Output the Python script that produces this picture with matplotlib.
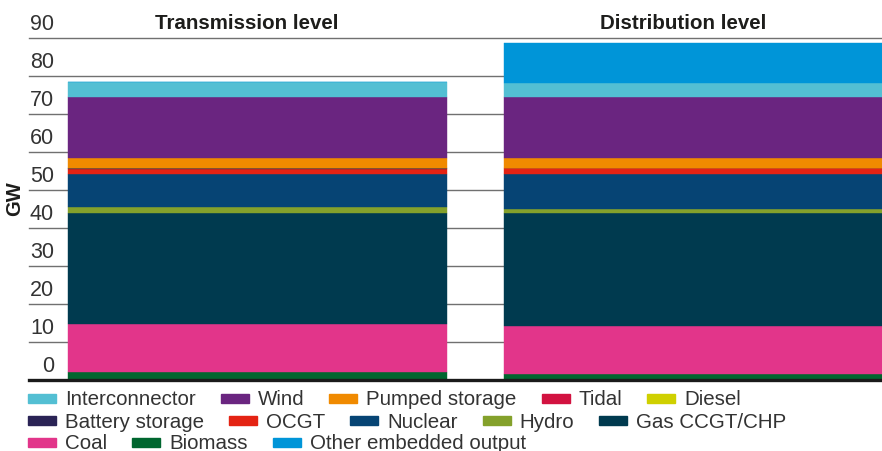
import matplotlib

matplotlib.use("Agg")

import matplotlib.pyplot as plt
from matplotlib.patches import Rectangle
from matplotlib.transforms import blended_transform_factory, offset_copy


# stack order, bottom to top
SOURCES = [
    "Biomass",
    "Coal",
    "Gas CCGT/CHP",
    "Hydro",
    "Nuclear",
    "OCGT",
    "Battery storage",
    "Tidal",
    "Diesel",
    "Pumped storage",
    "Wind",
    "Interconnector",
    "Other embedded output",
]
TRANSMISSION_GW = [2.2, 12.5, 29.15, 1.55, 8.7, 1.3, 0.3, 0.0, 0.0, 2.7, 15.9, 3.95, 0.0]
DISTRIBUTION_GW = [1.6, 12.6, 29.65, 1.05, 9.2, 1.6, 0.0, 0.0, 0.0, 2.6, 16.0, 3.7, 10.5]
LEVELS = ["Transmission level", "Distribution level"]
Y_TICKS = [0, 10, 20, 30, 40, 50, 60, 70, 80, 90]

LEGEND_ROWS = [
    ["Interconnector", "Wind", "Pumped storage", "Tidal", "Diesel"],
    ["Battery storage", "OCGT", "Nuclear", "Hydro", "Gas CCGT/CHP"],
    ["Coal", "Biomass", "Other embedded output"],
]

COLORS = {
    "Interconnector": "#53bfd3",
    "Wind": "#6a2580",
    "Pumped storage": "#f08a00",
    "Tidal": "#d21240",
    "Diesel": "#cfd000",
    "Battery storage": "#2a2355",
    "OCGT": "#e42313",
    "Nuclear": "#064474",
    "Hydro": "#84a12b",
    "Gas CCGT/CHP": "#003a4f",
    "Coal": "#e2358a",
    "Biomass": "#00662f",
    "Other embedded output": "#0095d8",
}

plt.rcParams["font.family"] = ["Liberation Sans", "DejaVu Sans"]

W, H = 882, 451
fig = plt.figure(figsize=(W / 100, H / 100), dpi=100)
ax = fig.add_axes([29 / W, 71 / H, 853 / W, (380 - 37.5) / H])

# gridlines under the bars
for v in Y_TICKS:
    ax.axhline(v, color="#707070", lw=1.0, zorder=0, clip_on=False)

bottoms = [0.0, 0.0]
for i, src in enumerate(SOURCES):
    vals = [TRANSMISSION_GW[i], DISTRIBUTION_GW[i]]
    ax.bar(
        [0, 1],
        vals,
        width=0.87,
        bottom=bottoms,
        color=COLORS[src],
        edgecolor=COLORS[src],
        linewidth=0.3,
        zorder=2,
    )
    bottoms = [bottoms[0] + vals[0], bottoms[1] + vals[1]]

ax.axhline(0, color="#1a1a1a", lw=2.4, zorder=3, clip_on=False)

ax.set_xlim(-0.524, 1.432)
ax.set_ylim(0, 90)
ax.axis("off")

# tick labels sit just above their gridlines
trans = blended_transform_factory(ax.transAxes, ax.transData)
trans = offset_copy(trans, fig=fig, y=2, units="points")
for v in Y_TICKS:
    ax.text(
        25 / 853, v, str(v), transform=trans, ha="right", va="bottom",
        fontsize=15.5, color="#333333", zorder=4,
    )

for i, name in enumerate(LEVELS):
    ax.text(
        i - 0.025, 92.2, name, ha="center", va="baseline",
        fontsize=14.8, fontweight="bold", color="#1d1d1b", clip_on=False,
    )

fig.text(15 / W, 1 - 199 / H, "GW", rotation=90, ha="center", va="center",
         fontsize=14.5, fontweight="bold", color="#1d1d1b")

# flowing legend
fig.canvas.draw()
renderer = fig.canvas.get_renderer()
row_centers = [398, 420.5, 442]
for row, yc in zip(LEGEND_ROWS, row_centers):
    x = 28
    for name in row:
        fig.patches.append(
            Rectangle((x / W, (H - yc - 4.5) / H), 28 / W, 9 / H,
                      transform=fig.transFigure, color=COLORS[name], figure=fig)
        )
        t = fig.text((x + 37) / W, (H - yc - 7) / H, name, ha="left", va="baseline",
                     fontsize=14.8, color="#333333")
        bb = t.get_window_extent(renderer=renderer)
        x = bb.x1 + 25

fig.savefig("out.png", dpi=100)
